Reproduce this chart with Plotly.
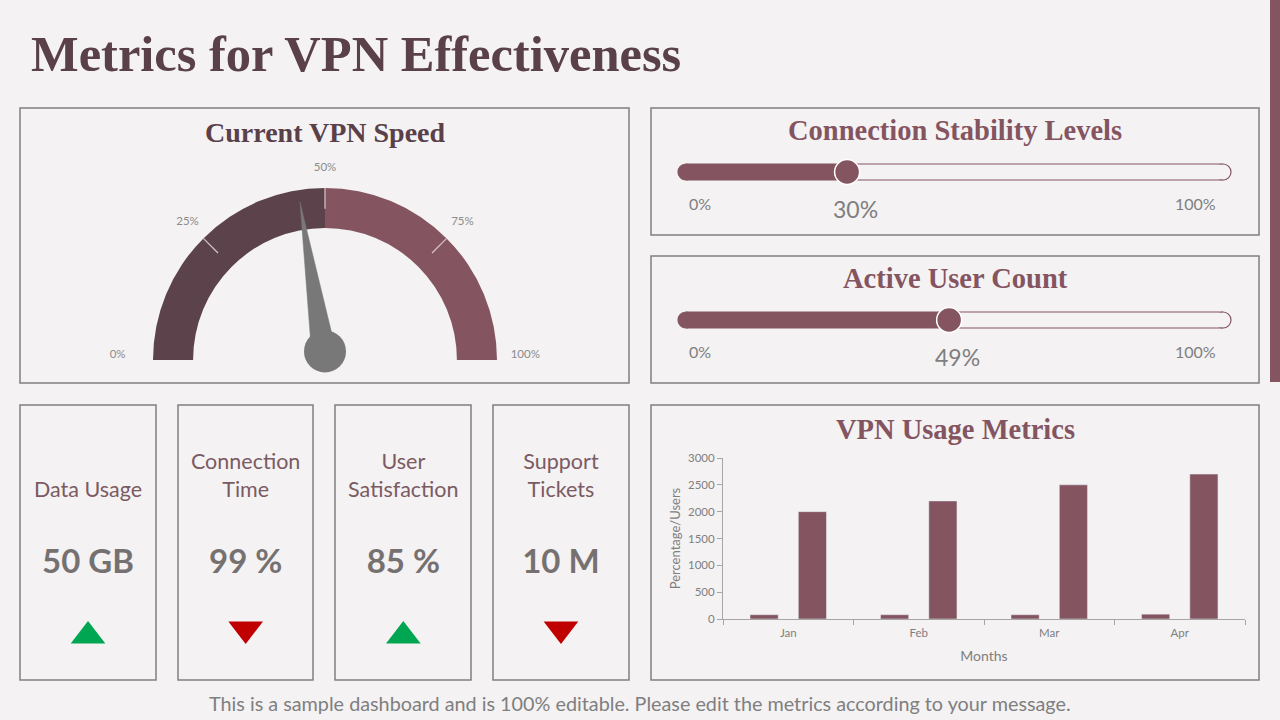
import plotly.graph_objects as go

# ---------------- data ----------------
gauge_value = 45
gauge_ticks = [0, 25, 50, 75, 100]
gauge_tick_labels = ["0%", "25%", "50%", "75%", "100%"]
gauge_band_starts = [0, 50]
gauge_band_ends = [50, 100]

slider_titles = ["Connection Stability Levels", "Active User Count"]
slider_values = [30, 49]

kpi_labels = ["Data Usage", "Connection<br>Time", "User<br>Satisfaction", "Support<br>Tickets"]
kpi_values = ["50 GB", "99 %", "85 %", "10 M"]
kpi_trends = ["up", "down", "up", "down"]

months = ["Jan", "Feb", "Mar", "Apr"]
usage_percentage = [80, 80, 80, 90]
usage_users = [2000, 2200, 2500, 2700]
usage_yticks = [0, 500, 1000, 1500, 2000, 2500, 3000]

# ---------------- style ----------------
W, H = 1280, 720
BG = "#f4f2f3"
MAROON = "#845560"
DARK = "#5c434b"
TITLE_DARK = "#5a4049"
GRAY = "#7f7f7f"
BORDER = "#808080"
NEEDLE = "#787878"
SERIF = "Liberation Serif"
SANS = "Lato"


def px(x):
    return x / W


def py(y):
    return 1 - y / H


fig = go.Figure()
shapes = []
annotations = []

# ---- panels ----
panels = [
    (20, 108, 629, 383), (651, 108, 1259, 235), (651, 256, 1259, 383),
    (20, 405, 156, 680), (178, 405, 313, 680), (335, 405, 471, 680), (493, 405, 629, 680),
    (651, 405, 1259, 680),
]
for x0, y0, x1, y1 in panels:
    shapes.append(dict(type="rect", xref="paper", yref="paper", x0=px(x0), x1=px(x1),
                       y0=py(y1), y1=py(y0), line=dict(color=BORDER, width=1.5),
                       fillcolor="rgba(0,0,0,0)", layer="below"))
# right accent bar
shapes.append(dict(type="rect", xref="paper", yref="paper", x0=px(1270), x1=1,
                   y0=py(382), y1=1, line=dict(width=0), fillcolor=MAROON, layer="below"))

# ---- main title & footer ----
annotations.append(dict(text="Metrics for VPN Effectiveness", xref="paper", yref="paper",
                        x=px(29), y=py(54), xanchor="left", yanchor="middle", showarrow=False,
                        font=dict(family=SERIF, size=50.5, color=TITLE_DARK, weight=700)))
annotations.append(dict(text="This is a sample dashboard and is 100% editable. Please edit the metrics according to your message.",
                        xref="paper", yref="paper", x=px(640), y=py(703), xanchor="center",
                        yanchor="middle", showarrow=False,
                        font=dict(family=SANS, size=19.8, color=GRAY)))

# panel titles
for text, cx, cy, size, col in [("Current VPN Speed", 325, 132, 28, TITLE_DARK),
                                ("Connection Stability Levels", 955, 130, 28.5, MAROON),
                                ("Active User Count", 955, 278, 28.5, MAROON),
                                ("VPN Usage Metrics", 955, 429, 28.5, MAROON)]:
    annotations.append(dict(text=text, xref="paper", yref="paper", x=px(cx), y=py(cy),
                            xanchor="center", yanchor="middle", showarrow=False,
                            font=dict(family=SERIF, size=size, color=col, weight=700)))

# ---------------- gauge (polar) ----------------
INNER = 0.767
RMAX = 1.25          # radial range so labels fit inside the polar area
R_PX = 172           # outer arc radius in px
CX, CY = 325, 360
deg = lambda v: v * 1.8
fig.add_trace(go.Barpolar(
    theta=[deg((a + b) / 2) for a, b in zip(gauge_band_starts, gauge_band_ends)],
    width=[deg(b - a) for a, b in zip(gauge_band_starts, gauge_band_ends)],
    r=[1 - INNER] * 2, base=[INNER] * 2,
    marker=dict(color=[DARK, MAROON], line=dict(width=0)),
    subplot="polar", hoverinfo="skip", showlegend=False))
for t in gauge_ticks[1:-1]:
    fig.add_trace(go.Scatterpolar(r=[0.88, 1.0], theta=[deg(t)] * 2, mode="lines",
                                  line=dict(color="#d9c6ca", width=1.2), subplot="polar",
                                  hoverinfo="skip", showlegend=False))
fig.add_trace(go.Scatterpolar(
    r=[1.16, 1.13, 1.115, 1.13, 1.08],
    theta=[deg(t) + o for t, o in zip(gauge_ticks, [1.5, 0, 0, 0, -1.5])],
    text=gauge_tick_labels, mode="text",
    textposition=["middle left", "middle center", "middle center", "middle center", "middle right"],
    textfont=dict(family=SANS, size=11.5, color="#8c8c8c"),
    cliponaxis=False, subplot="polar", hoverinfo="skip", showlegend=False))
# needle
a = deg(gauge_value)
fig.add_trace(go.Scatterpolar(
    r=[0.075, 0.93, 0.075, 0.075], theta=[a - 90, a, a + 90, a - 90],
    mode="lines", fill="toself", fillcolor=NEEDLE, line=dict(color=NEEDLE, width=0.5),
    cliponaxis=False, subplot="polar", hoverinfo="skip", showlegend=False))
fig.add_trace(go.Scatterpolar(
    r=[0.05], theta=[90], mode="markers", marker=dict(size=42, color=NEEDLE),
    cliponaxis=False, subplot="polar", hoverinfo="skip", showlegend=False))

RP = R_PX * RMAX
fig.update_layout(polar=dict(
    domain=dict(x=[px(CX - RP), px(CX + RP)], y=[py(CY), py(CY - RP)]),
    sector=[0, 180], bgcolor="rgba(0,0,0,0)",
    angularaxis=dict(rotation=180, direction="clockwise", visible=False),
    radialaxis=dict(range=[0, RMAX], visible=False),
))

# ---------------- sliders ----------------
track_centers = [172, 320]
X0_PX, X100_PX, CAP = 686, 1223, 8
unit = (X100_PX - X0_PX) / 100.0
pad = (CAP + 2) / unit
for i, (title, val, cy) in enumerate(zip(slider_titles, slider_values, track_centers)):
    n = i + 2
    xa, ya = f"x{n}", f"y{n}"
    fig.update_layout(**{
        f"xaxis{n}": dict(domain=[px(X0_PX - CAP - 2), px(X100_PX + CAP + 2)],
                          range=[-pad, 100 + pad], visible=False, anchor=ya, fixedrange=True),
        f"yaxis{n}": dict(domain=[py(cy + 15), py(cy - 15)], range=[-1, 1], visible=False,
                          anchor=xa, fixedrange=True),
    })
    common = dict(xref=xa, yref=ya, layer="below")
    for xe in (0, 100):
        shapes.append(dict(type="circle", xsizemode="pixel", xanchor=xe, x0=-CAP, x1=CAP,
                           ysizemode="pixel", yanchor=0, y0=-CAP, y1=CAP, fillcolor=BG,
                           line=dict(color=MAROON, width=1.2), **common))
    shapes.append(dict(type="rect", x0=0, x1=100, ysizemode="pixel", yanchor=0, y0=-7.4,
                       y1=7.4, fillcolor=BG, line=dict(width=0), **common))
    for yy in (-CAP, CAP):
        shapes.append(dict(type="line", x0=0, x1=100, ysizemode="pixel", yanchor=0, y0=yy,
                           y1=yy, line=dict(color=MAROON, width=1.2), **common))
    fig.add_trace(go.Scatter(x=[0, val], y=[0, 0], mode="lines",
                             line=dict(color=MAROON, width=16), xaxis=xa, yaxis=ya,
                             hoverinfo="skip", showlegend=False))
    fig.add_trace(go.Scatter(x=[0], y=[0], mode="markers", marker=dict(size=16, color=MAROON),
                             xaxis=xa, yaxis=ya, hoverinfo="skip", showlegend=False,
                             cliponaxis=False))
    fig.add_trace(go.Scatter(x=[val], y=[0], mode="markers",
                             marker=dict(size=25, color=MAROON, line=dict(color="white", width=1.5)),
                             xaxis=xa, yaxis=ya, hoverinfo="skip", showlegend=False,
                             cliponaxis=False))
    annotations.append(dict(text="0%", xref=xa, yref=ya, x=0, y=0, xshift=14, yshift=-31,
                            showarrow=False, font=dict(family=SANS, size=16, color=GRAY)))
    annotations.append(dict(text="100%", xref=xa, yref=ya, x=100, y=0, xshift=-28, yshift=-31,
                            showarrow=False, font=dict(family=SANS, size=16, color=GRAY)))
    annotations.append(dict(text=f"{val}%", xref=xa, yref=ya, x=val, y=0, xshift=8,
                            yshift=-37, showarrow=False,
                            font=dict(family=SANS, size=23, color=GRAY)))

# ---------------- KPI cards ----------------
kx = list(range(len(kpi_labels)))
fig.update_layout(
    xaxis4=dict(domain=[px(9.2), px(639.8)], range=[-0.5, 3.5], visible=False, anchor="y4",
                fixedrange=True),
    yaxis4=dict(domain=[py(680), py(405)], range=[680, 405], visible=False, anchor="x4",
                fixedrange=True),
)
fig.add_trace(go.Scatter(x=kx, y=[502] * 4, text=kpi_labels, mode="text",
                         textposition="top center",
                         textfont=dict(family=SANS, size=21.5, color="#7b5a62"),
                         xaxis="x4", yaxis="y4", hoverinfo="skip", showlegend=False,
                         cliponaxis=False))
fig.add_trace(go.Scatter(x=kx, y=[565] * 4, text=kpi_values, mode="text",
                         textposition="middle center",
                         textfont=dict(family=SANS, size=33, color="#767171", weight=700),
                         xaxis="x4", yaxis="y4", hoverinfo="skip", showlegend=False,
                         cliponaxis=False))
fig.add_trace(go.Scatter(
    x=kx, y=[636 if t == "up" else 629 for t in kpi_trends], mode="markers",
    marker=dict(symbol=["triangle-up" if t == "up" else "triangle-down" for t in kpi_trends],
                color=["#00a651" if t == "up" else "#c00000" for t in kpi_trends],
                size=30, line=dict(width=0)),
    xaxis="x4", yaxis="y4", hoverinfo="skip", showlegend=False, cliponaxis=False))

# ---------------- bar chart ----------------
fig.add_trace(go.Bar(x=months, y=usage_percentage, name="Percentage", marker_color=MAROON,
                     xaxis="x5", yaxis="y5", hoverinfo="skip", showlegend=False))
fig.add_trace(go.Bar(x=months, y=usage_users, name="Users", marker_color=MAROON,
                     xaxis="x5", yaxis="y5", hoverinfo="skip", showlegend=False))
axis_col = "#a6a6a6"
fig.update_layout(
    barmode="group", bargap=0.26, bargroupgap=0.417,
    xaxis5=dict(domain=[px(723), px(1245)], anchor="y5", showline=True, linecolor=axis_col,
                linewidth=1, ticks="outside", tickson="boundaries", ticklen=5,
                tickcolor=axis_col, showgrid=False, fixedrange=True, ticklabelstandoff=3,
                tickfont=dict(family=SANS, size=11.5, color=GRAY),
                title=dict(text="Months", font=dict(family=SANS, size=14, color=GRAY),
                           standoff=13)),
    yaxis5=dict(domain=[py(619), py(458)], anchor="x5", range=[0, 3000], tickvals=usage_yticks,
                showline=True, linecolor=axis_col, linewidth=1, ticks="outside", ticklen=5,
                tickcolor=axis_col, showgrid=False, zeroline=False, fixedrange=True,
                tickfont=dict(family=SANS, size=11.5, color=GRAY),
                title=dict(text="Percentage/Users", font=dict(family=SANS, size=13, color=GRAY),
                           standoff=4)),
)

fig.update_layout(
    width=W, height=H, margin=dict(l=0, r=0, t=0, b=0, pad=0, autoexpand=False),
    paper_bgcolor=BG, plot_bgcolor="rgba(0,0,0,0)",
    xaxis=dict(visible=False), yaxis=dict(visible=False),
    shapes=shapes, annotations=annotations, showlegend=False,
)

fig.write_html("out.html", config={"displayModeBar": False})
